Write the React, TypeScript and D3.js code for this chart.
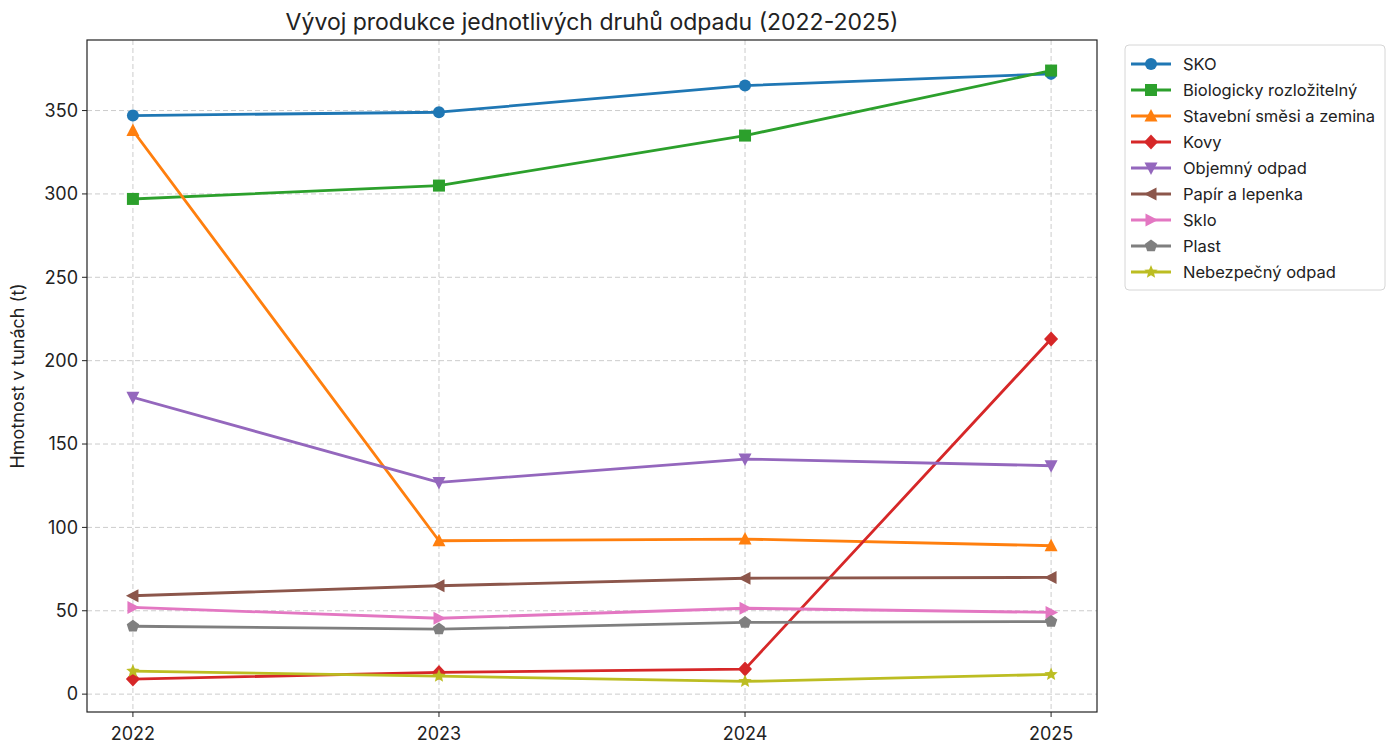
import React from "react";
import * as d3 from "d3";

const years = [2022, 2023, 2024, 2025];
const seriesNames = [
  "SKO",
  "Biologicky rozložitelný",
  "Stavební směsi a zemina",
  "Kovy",
  "Objemný odpad",
  "Papír a lepenka",
  "Sklo",
  "Plast",
  "Nebezpečný odpad",
];
const sko = [347, 349, 365, 372];
const bio = [297, 305, 335, 374];
const stavebni = [338, 92, 93, 89];
const kovy = [9, 13, 15, 213];
const objemny = [178, 127, 141, 137];
const papir = [59, 65, 69.5, 70];
const sklo = [52, 45.5, 51.5, 49];
const plast = [40.7, 39, 43, 43.5];
const nebezpecny = [13.8, 10.8, 7.6, 11.8];
const allValues = [sko, bio, stavebni, kovy, objemny, papir, sklo, plast, nebezpecny];
const colors = ["#1f77b4", "#2ca02c", "#ff7f0e", "#d62728", "#9467bd", "#8c564b", "#e377c2", "#7f7f7f", "#bcbd22"];
const markers = ["circle", "square", "triangle", "diamond", "tridown", "trileft", "triright", "pentagon", "star"];
const yTicks = [0, 50, 100, 150, 200, 250, 300, 350];

const W = 1399, H = 747;
const L = 87, R = 1097, T = 40, B = 712;
const FONT = "Inter, 'Open Sans', sans-serif";

function Marker({ kind, x, y, color }: { kind: string; x: number; y: number; color: string }) {
  const s = 6;
  const tri = (pts: [number, number][]) => (
    <polygon points={pts.map(([a, b]) => `${x + a},${y + b}`).join(" ")} fill={color} />
  );
  switch (kind) {
    case "circle":
      return <circle cx={x} cy={y} r={s} fill={color} />;
    case "square":
      return <rect x={x - s} y={y - s} width={2 * s} height={2 * s} fill={color} />;
    case "triangle":
      return tri([[0, -s - 1], [s + 0.5, s - 0.5], [-s - 0.5, s - 0.5]]);
    case "tridown":
      return tri([[0, s + 1], [s + 0.5, -s + 0.5], [-s - 0.5, -s + 0.5]]);
    case "trileft":
      return tri([[-s - 1, 0], [s - 0.5, -s - 0.5], [s - 0.5, s + 0.5]]);
    case "triright":
      return tri([[s + 1, 0], [-s + 0.5, -s - 0.5], [-s + 0.5, s + 0.5]]);
    case "diamond":
      return tri([[0, -s - 1.5], [s + 1, 0], [0, s + 1.5], [-s - 1, 0]]);
    case "pentagon": {
      const pts: [number, number][] = d3.range(5).map((i) => {
        const a = -Math.PI / 2 + (i * 2 * Math.PI) / 5;
        return [Math.cos(a) * (s + 0.5), Math.sin(a) * (s + 0.5)];
      });
      return tri(pts);
    }
    case "star": {
      const pts: [number, number][] = d3.range(10).map((i) => {
        const a = -Math.PI / 2 + (i * Math.PI) / 5;
        const r = i % 2 === 0 ? s + 1 : (s + 1) * 0.45;
        return [Math.cos(a) * r, Math.sin(a) * r];
      });
      return tri(pts);
    }
  }
  return null;
}

export default function App() {
  const flat = allValues.flat();
  const minV = d3.min(flat)!, maxV = d3.max(flat)!;
  const pad = (maxV - minV) * 0.05;
  const x = d3.scaleLinear().domain([2022 - 0.15, 2025 + 0.15]).range([L, R]);
  const y = d3.scaleLinear().domain([minV - pad, maxV + pad]).range([B, T]);
  const line = d3.line<number>().x((_, i) => x(years[i])).y((d) => y(d));

  const legX = 1125, legY = 45, legW = 260, legRowH = 26;

  return (
    <svg width={W} height={H} style={{ position: "absolute", left: 0, top: 0, background: "#fff" }} fontFamily={FONT}>
      <rect width={W} height={H} fill="#fff" />
      {/* grid */}
      {years.map((yr) => (
        <line key={"gx" + yr} x1={x(yr)} x2={x(yr)} y1={T} y2={B} stroke="#cccccc" strokeWidth={1} strokeDasharray="5,3" />
      ))}
      {yTicks.map((t) => (
        <line key={"gy" + t} x1={L} x2={R} y1={y(t)} y2={y(t)} stroke="#cccccc" strokeWidth={1} strokeDasharray="5,3" />
      ))}
      {/* lines */}
      {allValues.map((vals, si) => (
        <g key={"s" + si}>
          <path d={line(vals)!} fill="none" stroke={colors[si]} strokeWidth={2.8} strokeLinejoin="round" strokeLinecap="square" />
          {vals.map((v, i) => (
            <Marker key={i} kind={markers[si]} x={x(years[i])} y={y(v)} color={colors[si]} />
          ))}
        </g>
      ))}
      {/* frame */}
      <rect x={L} y={T} width={R - L} height={B - T} fill="none" stroke="#222" strokeWidth={1.2} />
      {/* x ticks */}
      {years.map((yr) => (
        <g key={"xt" + yr}>
          <line x1={x(yr)} x2={x(yr)} y1={B} y2={B + 5} stroke="#222" />
          <text x={x(yr)} y={B + 28} textAnchor="middle" fontSize={18} fill="#222">{yr}</text>
        </g>
      ))}
      {yTicks.map((t) => (
        <g key={"yt" + t}>
          <line x1={L - 5} x2={L} y1={y(t)} y2={y(t)} stroke="#222" />
          <text x={L - 9} y={y(t)} dy="0.35em" textAnchor="end" fontSize={18} fill="#222">{t}</text>
        </g>
      ))}
      <text x={(L + R) / 2} y={30} textAnchor="middle" fontSize={23} fill="#222">
        Vývoj produkce jednotlivých druhů odpadu (2022-2025)
      </text>
      <text transform={`translate(24,${(T + B) / 2}) rotate(-90)`} textAnchor="middle" fontSize={18} fill="#222">
        Hmotnost v tunách (t)
      </text>
      {/* legend */}
      <rect x={legX} y={legY} width={legW} height={legRowH * seriesNames.length + 11} rx={4} fill="#fff" stroke="#d6d6d6" />
      {seriesNames.map((n, i) => {
        const cy = legY + 19 + i * legRowH;
        return (
          <g key={"lg" + i}>
            <line x1={legX + 6} x2={legX + 46} y1={cy} y2={cy} stroke={colors[i]} strokeWidth={2.8} />
            <Marker kind={markers[i]} x={legX + 26} y={cy} color={colors[i]} />
            <text x={legX + 58} y={cy} dy="0.35em" fontSize={16.5} fill="#222">{n}</text>
          </g>
        );
      })}
    </svg>
  );
}
